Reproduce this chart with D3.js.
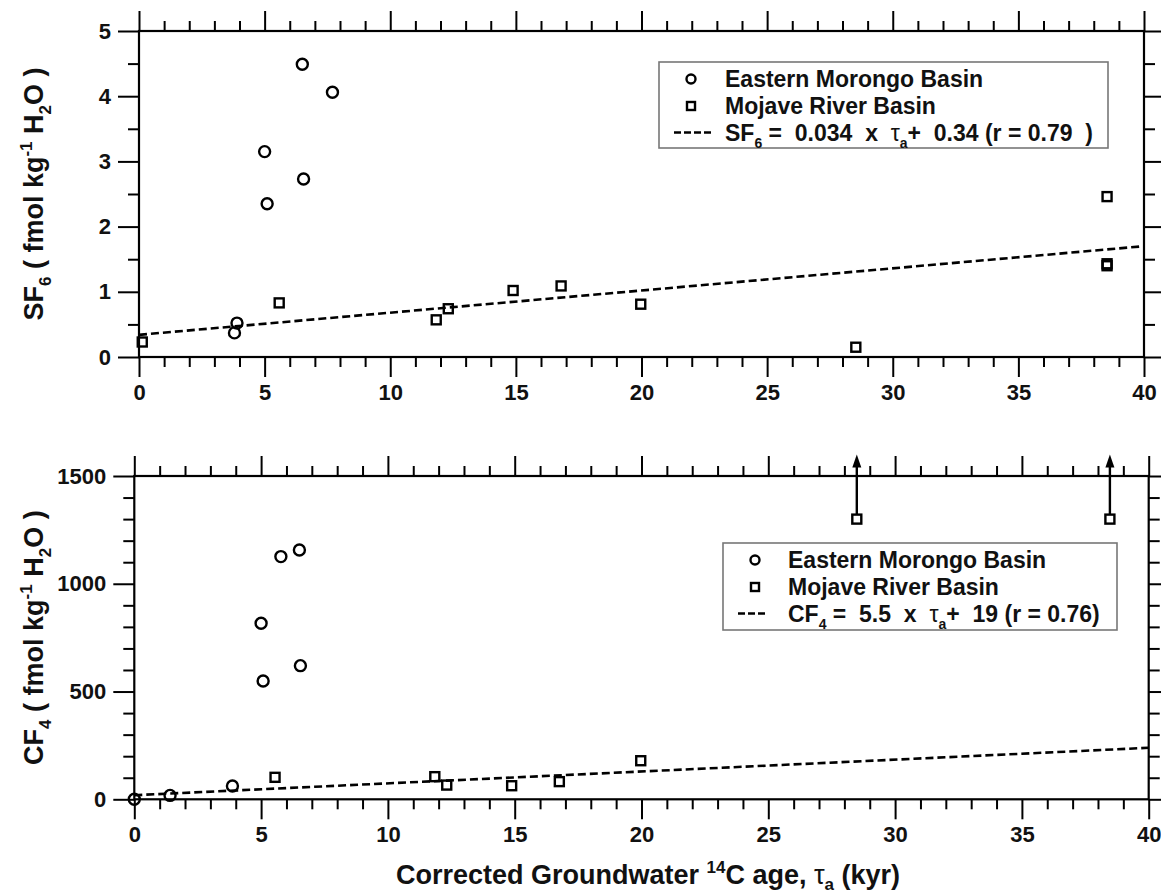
<!DOCTYPE html>
<html><head><meta charset="utf-8">
<script src="https://cdn.jsdelivr.net/npm/d3@7"></script>
<style>
html,body{margin:0;padding:0;background:#fff;}
svg{display:block;font-family:"Liberation Sans",Arial,sans-serif;font-weight:bold;}
text{white-space:pre;}
</style></head>
<body><svg id="chart" width="1161" height="894"></svg>
<script>
// ---------- data ----------
const xTickValues = [0, 5, 10, 15, 20, 25, 30, 35, 40];
const sf6TickValues = [0, 1, 2, 3, 4, 5];
const cf4TickValues = [0, 500, 1000, 1500];

// SF6 panel
const morongoSF6Age = [6.5, 7.7, 5.0, 6.55, 5.1, 3.9, 3.8];
const morongoSF6 = [4.49, 4.06, 3.15, 2.73, 2.35, 0.52, 0.37];
const mojaveSF6Age = [0.13, 5.58, 11.83, 12.31, 14.89, 16.8, 19.97, 28.53, 38.53, 38.53, 38.53];
const mojaveSF6 = [0.23, 0.83, 0.57, 0.74, 1.02, 1.09, 0.81, 0.15, 2.46, 1.40, 1.43];
const fitSF6 = { slope: 0.034, intercept: 0.34 };

// CF4 panel
const morongoCF4Age = [5.78, 6.51, 5.0, 5.08, 6.55, 3.87, 1.41, 0.0];
const morongoCF4 = [1126, 1157, 817, 549, 620, 62, 18, 0];
const mojaveCF4Age = [5.55, 11.85, 12.32, 14.88, 16.76, 19.97];
const mojaveCF4 = [102, 105, 66, 63, 82, 179];
const mojaveCF4LowerAge = [28.49, 38.47];
const mojaveCF4Lower = [1300, 1300];
const mojaveCF4ArrowTip = [1600, 1600];
const fitCF4 = { slope: 5.5, intercept: 19 };
const fitRange = [0, 40];

const legendNames = ["Eastern Morongo Basin", "Mojave River Basin"];

// ---------- drawing ----------
const svg = d3.select("#chart");

function drawPanel(o) {
  const x = d3.scaleLinear().domain([0, 40]).range([o.left, o.right]);
  const y = d3.scaleLinear().domain(o.yDomain).range([o.bottom, o.top]);
  const g = svg.append("g");
  const minorX = d3.range(0, 41, 1).filter(v => v % 5 !== 0);
  const minorY = d3.range(o.yDomain[0], o.yDomain[1] + 1e-9, o.yMinor).filter(v => !o.yTicks.some(t => Math.abs(t - v) < 1e-9));

  function axis(gen, transform, ticks, size, labels) {
    const a = g.append("g").attr("transform", transform)
      .call(gen.tickValues(ticks).tickSize(size).tickSizeOuter(0).tickPadding(7)
        .tickFormat(labels ? d3.format("d") : ""));
    a.select(".domain").remove();
    a.selectAll("line").attr("stroke", "#000").attr("stroke-width", 2);
    a.selectAll("text").attr("font-size", 22).attr("font-weight", "bold").attr("fill", "#111")
      .attr("font-family", "Liberation Sans, Arial, sans-serif");
    return a;
  }
  // bottom
  axis(d3.axisBottom(x), `translate(0,${o.bottom})`, xTickValues, 20, true);
  axis(d3.axisBottom(x), `translate(0,${o.bottom})`, minorX, 10, false);
  // top
  axis(d3.axisTop(x), `translate(0,${o.top})`, xTickValues, 20, false);
  axis(d3.axisTop(x), `translate(0,${o.top})`, minorX, 10, false);
  // left
  axis(d3.axisLeft(y), `translate(${o.left},0)`, o.yTicks, 21, true);
  axis(d3.axisLeft(y), `translate(${o.left},0)`, minorY, 11, false);
  // right
  axis(d3.axisRight(y), `translate(${o.right},0)`, o.yTicks, 21, false);
  axis(d3.axisRight(y), `translate(${o.right},0)`, minorY, 11, false);

  // frame
  g.append("rect").attr("x", o.left).attr("y", o.top)
    .attr("width", o.right - o.left).attr("height", o.bottom - o.top)
    .attr("fill", "none").attr("stroke", "#000").attr("stroke-width", 2.2);

  // fit line
  const line = d3.line().x(d => x(d)).y(d => y(o.fit.slope * d + o.fit.intercept));
  g.append("path").datum(fitRange).attr("d", line)
    .attr("fill", "none").attr("stroke", "#000").attr("stroke-width", 2.6)
    .attr("stroke-dasharray", "8,4");

  // arrows (lower bounds)
  if (o.arrowsAge) {
    o.arrowsAge.forEach((a, i) => {
      const x0 = x(a), y0 = y(o.arrowsVal[i]), y1 = y(o.arrowsTip[i]);
      g.append("line").attr("x1", x0).attr("x2", x0).attr("y1", y0).attr("y2", y1 + 10)
        .attr("stroke", "#000").attr("stroke-width", 2.4);
      g.append("path").attr("d", `M${x0},${y1} L${x0 - 4.5},${y1 + 13} L${x0 + 4.5},${y1 + 13} Z`).attr("fill", "#000");
    });
    g.selectAll(".sqa").data(o.arrowsAge).enter().append("rect")
      .attr("x", d => x(d) - 4.5).attr("y", (d, i) => y(o.arrowsVal[i]) - 4.5)
      .attr("width", 9).attr("height", 9).attr("fill", "#fff").attr("stroke", "#000").attr("stroke-width", 2.4);
  }

  // points
  g.selectAll(".circ").data(o.circAge).enter().append("circle")
    .attr("cx", d => x(d)).attr("cy", (d, i) => y(o.circVal[i])).attr("r", 5.5)
    .attr("fill", "none").attr("stroke", "#000").attr("stroke-width", 2.4);
  g.selectAll(".sq").data(o.sqAge).enter().append("rect")
    .attr("x", d => x(d) - 4.5).attr("y", (d, i) => y(o.sqVal[i]) - 4.5)
    .attr("width", 9).attr("height", 9).attr("fill", "none").attr("stroke", "#000").attr("stroke-width", 2.4);

  // y title
  const yt = g.append("text")
    .attr("transform", `translate(${o.yTitleX},${(o.top + o.bottom) / 2}) rotate(-90)`)
    .attr("text-anchor", "middle").attr("font-size", 27).attr("fill", "#111");
  yt.append("tspan").text(o.gas[0]);
  yt.append("tspan").attr("font-size", 17).attr("dy", 8).text(o.gas[1]);
  yt.append("tspan").attr("dy", -8).text(" ( fmol kg");
  yt.append("tspan").attr("font-size", 17).attr("dy", -11).text("-1");
  yt.append("tspan").attr("dy", 11).text(" H");
  yt.append("tspan").attr("font-size", 17).attr("dy", 8).text("2");
  yt.append("tspan").attr("dy", -8).text("O )");

  // legend
  const L = o.legend;
  g.append("rect").attr("x", L.x).attr("y", L.y).attr("width", L.w).attr("height", L.h)
    .attr("fill", "#fff").attr("stroke", "#777").attr("stroke-width", 1.6);
  const rowY = [L.y + 17, L.y + 44, L.y + 70.5];
  g.append("circle").attr("cx", L.sym).attr("cy", rowY[0]).attr("r", 4.5)
    .attr("fill", "none").attr("stroke", "#000").attr("stroke-width", 2.4);
  g.append("rect").attr("x", L.sym - 4).attr("y", rowY[1] - 4).attr("width", 8).attr("height", 8)
    .attr("fill", "none").attr("stroke", "#000").attr("stroke-width", 2.4);
  g.append("line").attr("x1", L.lx0).attr("x2", L.lx1).attr("y1", rowY[2]).attr("y2", rowY[2])
    .attr("stroke", "#000").attr("stroke-width", 2.6).attr("stroke-dasharray", "7,3");
  legendNames.forEach((n, i) => {
    g.append("text").attr("x", L.tx).attr("y", rowY[i] + 8).attr("font-size", 23).attr("fill", "#111").text(n);
  });
  const eq = g.append("text").attr("x", L.tx).attr("y", rowY[2] + 8).attr("font-size", 23).attr("fill", "#111");
  eq.append("tspan").text(o.gas[0]);
  eq.append("tspan").attr("font-size", 14).attr("dy", 7).text(o.gas[1]);
  eq.append("tspan").attr("dy", -7).text(` =  ${o.eq[0]}  x  `);
  eq.append("tspan").attr("font-weight", "normal").text("τ");
  eq.append("tspan").attr("font-size", 14).attr("dy", 7).text("a");
  eq.append("tspan").attr("dy", -7).text(`+  ${o.eq[1]} (r = ${o.eq[2]})`);
}

drawPanel({
  left: 139, right: 1144, top: 31, bottom: 357,
  yDomain: [0, 5], yTicks: sf6TickValues, yMinor: 0.5,
  fit: fitSF6, gas: ["SF", "6"], yTitleX: 43,
  circAge: morongoSF6Age, circVal: morongoSF6,
  sqAge: mojaveSF6Age, sqVal: mojaveSF6,
  legend: { x: 659, y: 62, w: 449, h: 86, sym: 691, lx0: 674, lx1: 712, tx: 725 },
  eq: ["0.034", "0.34", "0.79  "]
});

drawPanel({
  left: 134.3, right: 1148.7, top: 476, bottom: 799.3,
  yDomain: [0, 1500], yTicks: cf4TickValues, yMinor: 100,
  fit: fitCF4, gas: ["CF", "4"], yTitleX: 43,
  circAge: morongoCF4Age, circVal: morongoCF4,
  sqAge: mojaveCF4Age, sqVal: mojaveCF4,
  arrowsAge: mojaveCF4LowerAge, arrowsVal: mojaveCF4Lower, arrowsTip: mojaveCF4ArrowTip,
  legend: { x: 723, y: 543, w: 394, h: 87, sym: 755, lx0: 738, lx1: 766, tx: 788 },
  eq: ["5.5", "19", "0.76"]
});

// x title
const xt = svg.append("text").attr("x", 648).attr("y", 884).attr("text-anchor", "middle")
  .attr("font-size", 27).attr("fill", "#111");
xt.append("tspan").text("Corrected Groundwater ");
xt.append("tspan").attr("font-size", 17).attr("dy", -11).text("14");
xt.append("tspan").attr("dy", 11).text("C age, ");
xt.append("tspan").attr("font-weight", "normal").text("τ");
xt.append("tspan").attr("font-size", 17).attr("dy", 6).text("a");
xt.append("tspan").attr("dy", -6).text(" (kyr)");
</script></body></html>
